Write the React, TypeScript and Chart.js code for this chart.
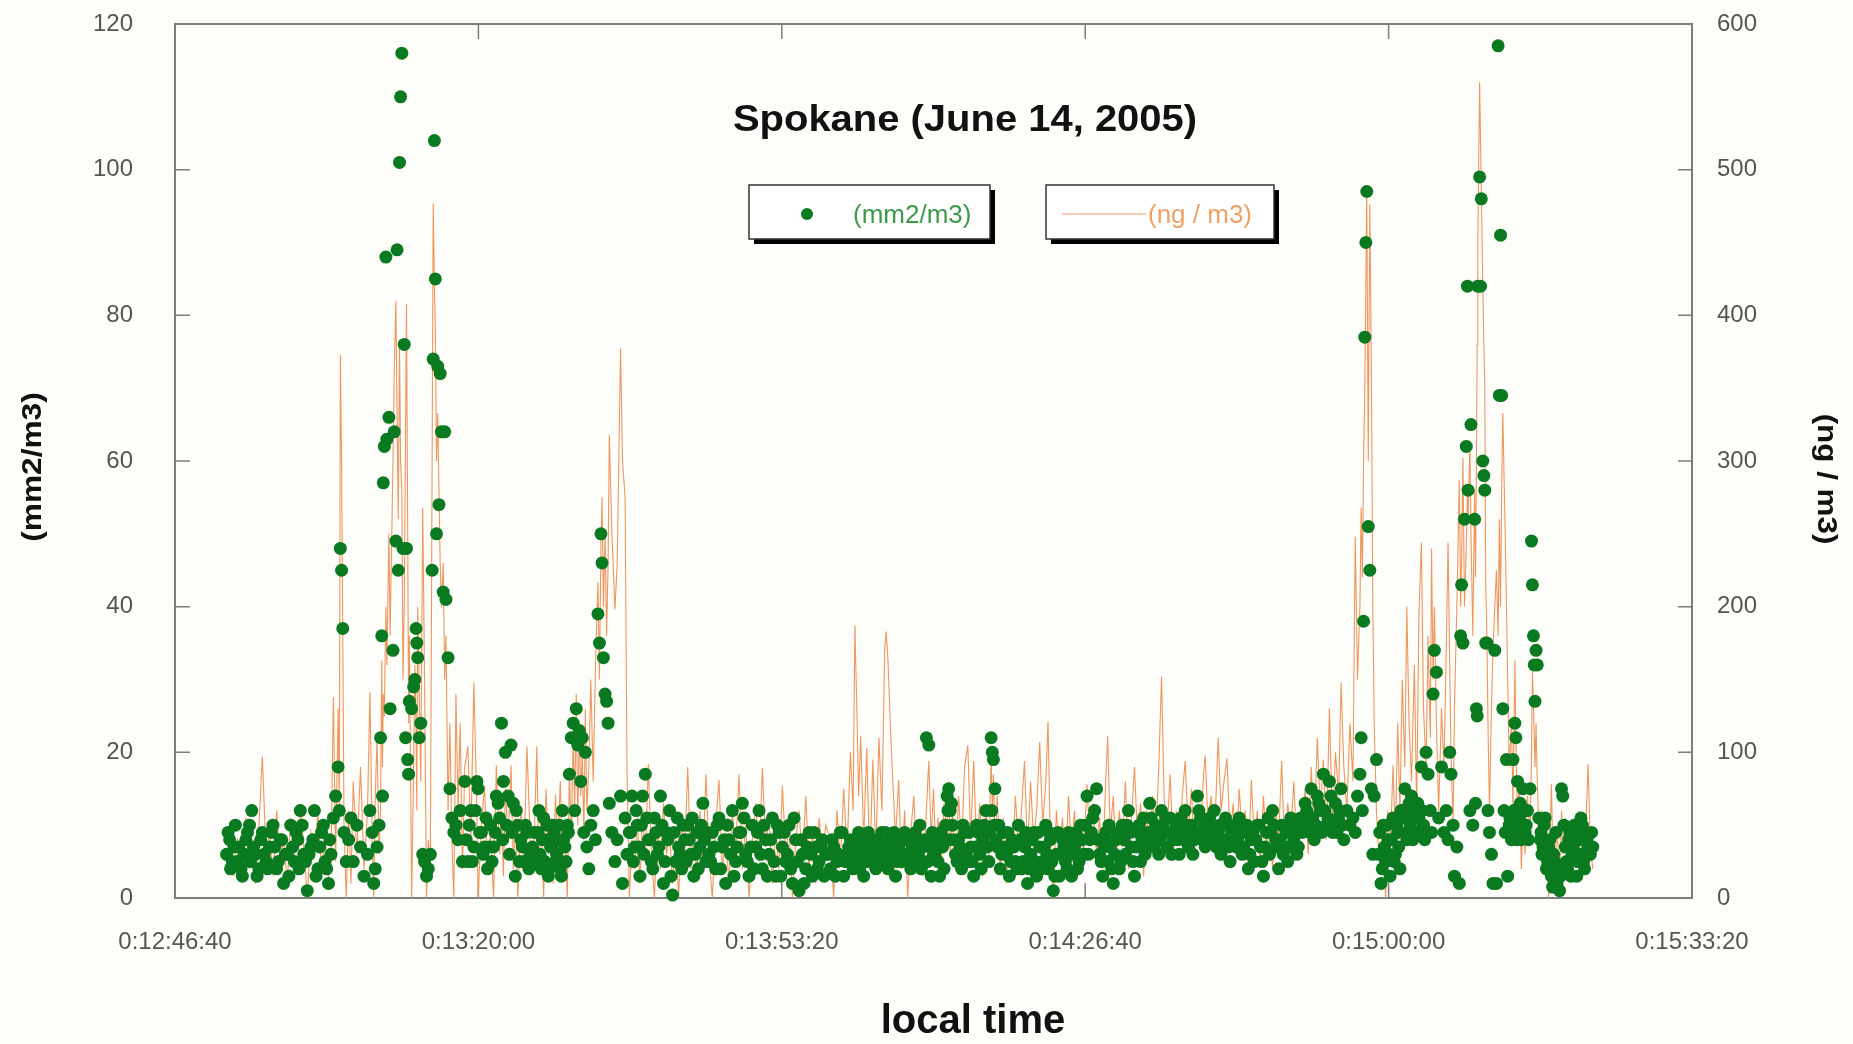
import React, { useEffect, useRef } from "react";
import { Chart, registerables } from "chart.js";

Chart.register(...registerables);

// ---------------- data ----------------
const titleText = "Spokane (June 14, 2005)";
const areaLabel = "(mm2/m3)";
const massLabel = "(ng / m3)";
const xTitle = "local time";

const xTickValues = [46000, 48000, 50000, 52000, 54000, 56000];
const leftTickValues = [0, 20, 40, 60, 80, 100, 120];
const rightTickValues = [0, 100, 200, 300, 400, 500, 600];

// local time in seconds of the day (shared by both series)
const timeSec = [
  46350, 46366, 46389, 46413, 46444, 46467, 46491, 46506, 46530, 46553,
  46576, 46600, 46623, 46646, 46670, 46693, 46716, 46740, 46763, 46787,
  46810, 46826, 46849, 46872, 46896, 46919, 46942, 46966, 46989, 47012, 47028,
  47044, 47059, 47075, 47083, 47090, 47098, 47106, 47114, 47129, 47145, 47160, 47175,
  47199, 47223, 47246, 47269, 47285, 47300, 47310, 47320, 47332, 47345,
  47355, 47363, 47368, 47373, 47380, 47390, 47397, 47410, 47418, 47437,
  47445, 47456, 47464, 47472, 47480, 47487, 47495, 47503, 47511, 47520,
  47526, 47534, 47540, 47545, 47560, 47573, 47581, 47589, 47594, 47600,
  47610, 47620, 47633, 47645, 47658, 47670, 47683,
  47695, 47702, 47710, 47716, 47724, 47732, 47740, 47748, 47756, 47768,
  47778, 47786, 47800, 47812, 47825, 47838, 47852, 47866, 47880, 47895, 47910,
  47931, 47950, 47970, 47990, 47998, 48020, 48040, 48060, 48080, 48100,
  48118, 48140, 48152, 48165, 48178, 48196, 48215, 48230, 48243, 48260,
  48280, 48300, 48320, 48345,
  48368, 48385, 48399, 48415, 48430, 48446, 48461, 48477, 48492, 48508,
  48523, 48540, 48554, 48570, 48586, 48600, 48612, 48625, 48635, 48645,
  48655, 48665, 48675, 48685, 48695, 48705, 48715, 48728, 48741,
  48757, 48772, 48788, 48798, 48808, 48815, 48824, 48835, 48845, 48855,
  48863, 48880, 48900, 48915, 48937, 48950, 48967, 48980, 48995,
  49012, 49030, 49048, 49065, 49082, 49100, 49120, 49140, 49160, 49180,
  49200, 49220, 49240, 49260, 49280, 49300, 49320, 49340, 49360, 49380,
  49400, 49420, 49440, 49460, 49480, 49500,
  49520, 49542, 49564, 49586, 49608, 49630, 49652, 49674, 49696, 49718,
  49740, 49762, 49784, 49806, 49828, 49850, 49872, 49894, 49916, 49938,
  49960, 49982, 50004, 50026, 50048, 50070, 50092, 50114, 50136, 50158,
  50180, 50202, 50224, 50246, 50268, 50290,
  50320, 50342, 50364, 50386, 50408, 50430, 50452, 50470, 50482, 50494,
  50506, 50520, 50540, 50560, 50580, 50600, 50620, 50640, 50660, 50678,
  50688, 50700, 50715, 50730, 50750, 50770, 50790, 50810, 50830, 50850,
  50870, 50890, 50910, 50930, 50953, 50969, 50985, 51000, 51015, 51030,
  51050, 51070,
  51090, 51100, 51110, 51125, 51145, 51165, 51185, 51205, 51226, 51245,
  51265, 51285, 51305, 51325, 51345, 51365, 51380, 51388, 51395, 51405,
  51420, 51440, 51460, 51480, 51500, 51520, 51540, 51560, 51580, 51600,
  51620, 51640, 51660, 51680, 51700, 51720, 51740, 51755, 51770, 51790,
  51810, 51830, 51850,
  51870, 51890, 51910, 51930, 51950, 51970, 51990, 52012, 52030, 52050,
  52075, 52095, 52115, 52135, 52148, 52165, 52185, 52205, 52225, 52245,
  52265, 52285, 52305, 52325, 52345, 52365, 52385, 52405, 52425, 52445,
  52465, 52485, 52503, 52520, 52540, 52560, 52580, 52600, 52620,
  52640, 52659, 52680, 52700, 52720, 52740, 52760, 52780, 52791, 52810,
  52830, 52850, 52877, 52895, 52915, 52935, 52955, 52975, 52995, 53015,
  53035, 53055, 53075, 53095, 53115, 53135, 53155, 53175, 53195, 53215,
  53235, 53255, 53275, 53295, 53315, 53335, 53355, 53375, 53395,
  53430, 53450, 53470, 53490, 53510, 53530, 53550, 53570, 53590, 53610,
  53630, 53650, 53670, 53687, 53705, 53725, 53745, 53765, 53780, 53795,
  53811, 53819, 53827, 53835, 53843, 53850, 53856, 53866, 53876, 53886,
  53896, 53905, 53920,
  53935, 53950, 53965, 53980, 53995, 54010, 54029, 54045, 54060, 54075,
  54090, 54107, 54120, 54135, 54151, 54170, 54185, 54200, 54216, 54230,
  54247, 54260, 54275, 54283, 54293, 54302, 54315, 54330, 54349, 54365,
  54380, 54392, 54403, 54411, 54425, 54434, 54450, 54466, 54475, 54481,
  54490,
  54500, 54512, 54520, 54524, 54536, 54543, 54555, 54567, 54573, 54579,
  54584, 54588, 54600, 54606, 54611, 54621, 54628, 54634, 54640, 54648,
  54655, 54665, 54678, 54688, 54700, 54711, 54722, 54730, 54738, 54745,
  54753, 54761, 54769, 54777, 54785, 54795, 54810, 54820, 54832, 54839,
  54850, 54862, 54875, 54886, 54900, 54915, 54933, 54942, 54948, 54955,
  54960, 54965, 54972, 54980, 54990, 55000, 55011, 55025, 55040, 55055,
  55073, 55081, 55095, 55110, 55127, 55140, 55148, 55165, 55180, 55195,
  55210, 55225, 55240, 55255, 55268, 55285, 55300, 55315, 55330, 55346,
];

// surface area concentration (mm2/m3), left axis
const areaValues = [
  9, 4, 7, 5, 3, 8, 10, 12, 6, 4,
  9, 5, 7, 10, 4, 8, 2, 6, 10, 5,
  8, 12, 6, 1, 7, 12, 4, 9, 5, 2, 6,
  11, 14, 18, 12, 48, 45, 37, 9, 5, 8, 11, 5,
  10, 7, 3, 6, 12, 9, 2, 4, 7, 10,
  22, 36, 14, 57, 62, 88, 63, 66, 26, 34,
  64, 49, 89, 45, 101, 110, 116, 48, 76, 22,
  48, 19, 17, 27, 26, 29, 30, 37, 35, 33,
  22, 24, 6, 5, 3, 4, 6,
  45, 74, 104, 85, 50, 73, 54, 72, 64, 42,
  64, 41, 33, 15, 11, 9, 10, 8, 12, 5, 16,
  5, 12, 7, 16, 15, 9, 7, 4, 10, 7,
  14, 11, 24, 16, 20, 14, 21, 13, 3, 10,
  8, 5, 9, 6,
  9, 6, 12, 4, 11, 8, 3, 7, 10, 5,
  8, 4, 12, 7, 10, 17, 22, 24, 12, 26,
  21, 23, 16, 22, 9, 20, 7, 4, 10,
  12, 8, 39, 35, 50, 46, 33, 28, 27, 24,
  13, 9, 5, 8, 14, 2, 11, 6, 9,
  14, 7, 10, 3, 14, 17, 8, 5, 11, 6,
  14, 2, 9, 12, 0.4, 5, 7, 4, 8, 10,
  6, 3, 9, 7, 13, 5,
  6, 9, 4, 11, 7, 2, 8, 12, 5, 9,
  13, 6, 3, 10, 7, 12, 4, 8, 6, 11,
  3, 9, 7, 5, 10, 2, 8, 1, 6, 4,
  9, 3, 7, 5, 8, 6,
  4, 7, 5, 9, 3, 6, 8, 4, 7, 5,
  9, 6, 3, 7, 5, 8, 4, 6, 9, 5,
  7, 4, 8, 6, 3, 7, 5, 9, 6, 4,
  8, 5, 10, 7, 22, 21, 3, 6, 8, 5,
  9, 4,
  14, 15, 12, 10, 6, 8, 4, 9, 5, 7,
  3, 10, 6, 8, 12, 5, 22, 20, 19, 15,
  7, 4, 9, 6, 3, 8, 5, 10, 4, 7,
  2, 6, 9, 3, 7, 5, 10, 4, 8, 1,
  6, 3, 8,
  5, 9, 3, 7, 4, 10, 6, 14, 8, 11,
  15, 6, 3, 9, 5, 7, 2, 8, 4, 10,
  6, 12, 7, 3, 9, 5, 11, 7, 13, 8,
  10, 6, 12, 9, 7, 11, 8, 10, 6,
  9, 12, 7, 10, 8, 14, 11, 9, 7, 10,
  8, 12, 9, 6, 10, 8, 5, 9, 7, 11,
  6, 9, 4, 8, 5, 10, 7, 3, 9, 6,
  12, 8, 4, 10, 7, 5, 11, 8, 6,
  9, 13, 11, 15, 8, 14, 12, 17, 10, 16,
  9, 13, 11, 15, 8, 12, 10, 11, 9, 14,
  17, 22, 12, 38, 77, 90, 97, 51, 45, 15,
  6, 14, 19,
  6, 2, 10, 5, 8, 3, 11, 6, 9, 4,
  12, 15, 8, 13, 14, 12, 9, 11, 18, 10,
  20, 17, 12, 9, 28, 34, 31, 11, 18, 9,
  12, 8, 20, 17, 10, 3, 7, 2, 36, 43,
  35,
  52, 62, 84, 56, 12, 65, 10, 52, 13, 26,
  25, 84, 99, 84, 96, 60, 58, 56, 35, 35,
  12, 9, 6, 2, 34, 2, 117, 69, 91, 69,
  26, 12, 9, 19, 3, 10, 8, 19, 24, 22,
  16, 11, 8, 15, 9, 12, 15, 49, 43, 36,
  32, 27, 34, 32, 11, 8, 6, 10, 4, 7,
  3, 1.5, 5, 2, 1, 15, 14, 7, 4, 9,
  6, 10, 3, 8, 11, 5, 9, 7, 6, 7,
];

// mass concentration (ng / m3), right axis
const massValues = [
  20, 45, 15, 40, 25, 55, 20, 35, 10, 50,
  97, 30, 45, 15, 60, 25, 40, 10, 55, 30,
  20, 62, 35, 0, 45, 30, 58, 20, 40, 15, 25,
  138, 25, 130, 60, 373, 300, 180, 50, 0, 60, 10, 80,
  30, 90, 20, 60, 141, 40, 0, 70, 110, 30,
  60, 163, 90, 140, 125, 200, 160, 250, 180, 300,
  360, 410, 330, 260, 383, 300, 280, 150, 200, 320,
  408, 250, 120, 180, 0, 90, 160, 120, 60, 200,
  140, 80, 268, 150, 0, 40, 20,
  300, 477, 420, 391, 300, 333, 280, 230, 200, 230,
  150, 180, 60, 120, 40, 0, 140, 60, 120, 20, 90,
  104, 40, 148, 60, 0, 50, 77, 20, 45, 0,
  91, 30, 60, 15, 75, 40, 91, 20, 55, 0,
  60, 25, 104, 30,
  40, 104, 20, 60, 0, 75, 30, 55, 10, 71,
  35, 80, 25, 50, 0, 90, 40, 110, 60, 140,
  50, 120, 70, 100, 40, 130, 60, 90, 150,
  80, 160, 217, 150, 243, 275, 200, 250, 180, 230,
  318, 250, 198, 230, 377, 300, 275, 83, 0,
  40, 20, 55, 10, 60, 25, 92, 30, 0, 50,
  20, 65, 30, 45, 10, 40, 0, 55, 30, 90,
  20, 50, 15, 60, 25, 85,
  30, 0, 50, 81, 20, 45, 10, 60, 30, 85,
  20, 50, 0, 40, 65, 25, 89, 35, 55, 10,
  45, 20, 77, 30, 50, 0, 40, 60, 25, 70,
  20, 45, 10, 55, 30, 50,
  40, 0, 60, 25, 75, 30, 100, 60, 187, 133,
  70, 111, 40, 103, 20, 95, 30, 110, 60, 170,
  183, 163, 120, 85, 40, 81, 20, 60, 0, 45,
  70, 25, 50, 15, 60, 94, 40, 75, 30, 55,
  20, 65,
  40, 80, 30, 60, 20, 70, 35, 90, 105, 40,
  94, 30, 65, 15, 60, 30, 97, 60, 85, 40,
  70, 20, 55, 10, 45, 25, 70, 35, 60, 94,
  30, 80, 40, 60, 107, 50, 80, 121, 40, 0,
  60, 30, 55,
  20, 70, 35, 60, 15, 50, 30, 78, 40, 65,
  30, 55, 20, 80, 111, 45, 70, 25, 60, 35,
  80, 20, 55, 90, 40, 65, 15, 60, 30, 70,
  40, 90, 152, 70, 45, 85, 30, 60, 40,
  70, 94, 45, 75, 30, 60, 40, 85, 98, 50,
  70, 35, 110, 60, 80, 96, 40, 65, 30, 75,
  45, 60, 20, 81, 40, 60, 25, 70, 35, 55,
  20, 60, 40, 94, 30, 65, 45, 80, 35,
  50, 75, 30, 90, 45, 110, 60, 95, 40, 130,
  50, 100, 70, 148, 90, 60, 120, 80, 248, 150,
  200, 268, 220, 300, 350, 420, 487, 300, 476, 371,
  200, 120, 60,
  30, 20, 45, 0, 60, 30, 91, 40, 120, 60,
  150, 90, 200, 120, 80, 160, 60, 195, 244, 130,
  90, 180, 110, 240, 150, 200, 120, 60, 130, 90,
  170, 244, 160, 100, 50, 130, 200, 287, 200, 230,
  302,
  200, 240, 280, 260, 314, 250, 180, 280, 220, 300,
  380, 450, 560, 520, 487, 420, 380, 352, 217, 180,
  120, 60, 130, 170, 200, 225, 180, 260, 200, 280,
  333, 290, 248, 200, 150, 90, 120, 60, 163, 110,
  50, 80, 20, 60, 30, 70, 40, 100, 156, 130,
  110, 90, 120, 80, 50, 30, 60, 20, 50, 0,
  78, 40, 20, 50, 10, 60, 30, 55, 20, 45,
  15, 50, 30, 60, 40, 20, 50, 92, 35, 20,
];

// additional (mm2/m3) readings in the dense low band
const extraTimes = [
  46340, 46360, 46378, 46398, 46420, 46436, 46456, 46478, 46498, 46518,
  46541, 46565, 46588, 46611, 46635, 46658, 46681, 46704, 46728, 46751,
  46775, 46798, 46818, 46838, 46860, 46884, 46908, 46930, 46954, 46978,
  47000, 47020,
  47920, 47940, 47960, 47980, 48008, 48030, 48050, 48070, 48090, 48110,
  48130, 48160, 48186, 48205, 48222, 48250, 48270, 48290, 48310, 48333,
  48356, 48376, 48392, 48407, 48422, 48438, 48453, 48469, 48484, 48500,
  48515, 48531, 48547, 48562, 48578, 48593,
  49003, 49022, 49040, 49057, 49074, 49091, 49110, 49130, 49150, 49170,
  49190, 49210, 49230, 49250, 49270, 49290, 49310, 49330, 49350, 49370,
  49390, 49410, 49430, 49450, 49470, 49490, 49510, 49531, 49553, 49575,
  49597, 49619, 49641, 49663, 49685, 49707, 49729, 49751, 49773, 49795,
  49817, 49839, 49861, 49883, 49905, 49927, 49949, 49971, 49993, 50015,
  50037, 50059, 50081, 50103, 50125, 50147, 50169, 50191, 50213, 50235,
  50257, 50279, 50305, 50331, 50353, 50375, 50397, 50419, 50441, 50461,
  50476, 50488, 50500, 50513, 50530, 50550, 50570, 50590, 50610, 50630,
  50650, 50669, 50683, 50694, 50707, 50722, 50740, 50760, 50780, 50800,
  50820, 50840, 50860, 50880, 50900, 50920, 50940, 50961, 50977, 50993,
  51008, 51022, 51040, 51060, 51080, 51095, 51105, 51118, 51135, 51155,
  51175, 51195, 51215, 51235, 51255, 51275, 51295, 51315, 51335, 51355,
  51372, 51384, 51400, 51412, 51430, 51450, 51470, 51490, 51510, 51530,
  51550, 51570, 51590, 51610, 51630, 51650, 51670, 51690, 51710, 51730,
  51747, 51762, 51780, 51800, 51820, 51840, 51860, 51880, 51900, 51920,
  51940, 51960, 51980, 52000, 52021, 52040, 52062, 52085, 52105, 52125,
  52141, 52157, 52175, 52195, 52215, 52235, 52255, 52275, 52295, 52315,
  52335, 52355, 52375, 52395, 52415, 52435, 52455, 52475, 52494, 52512,
  52530, 52550, 52570, 52590, 52610, 52630, 52650, 52670, 52690, 52710,
  52730, 52750, 52770, 52786, 52800, 52820, 52840, 52864, 52886, 52905,
  52925, 52945, 52965, 52985, 53005, 53025, 53045, 53065, 53085, 53105,
  53125, 53145, 53165, 53185, 53205, 53225, 53245, 53265, 53285, 53305,
  53325, 53345, 53365, 53385, 53405, 53420, 53440, 53460, 53480, 53500,
  53520, 53540, 53560, 53580, 53600, 53620, 53640, 53660, 53678, 53695,
  53942, 53958, 53972, 53988, 54002, 54018, 54037, 54052, 54067, 54082,
  54098, 54113, 54128, 54143, 54160, 54178, 54192, 54208, 54222, 54238,
  54800, 54815, 54826, 54845, 54856, 54868, 54880, 54893, 54907, 54922,
  55005, 55018, 55032, 55048, 55063, 55088, 55102, 55118, 55133, 55156,
  55172, 55187, 55202, 55217, 55232, 55248, 55261, 55277, 55292, 55308,
  55322, 55338,
];
const extraArea = [
  6, 8, 5, 10, 7, 4, 6, 9, 5, 7,
  3, 8, 6, 4, 9, 7, 5, 8, 6, 3,
  7, 9, 4, 10, 5, 6, 8, 3, 7, 10,
  4, 8,
  8, 10, 5, 12, 9, 6, 11, 7, 5, 9,
  13, 8, 10, 6, 9, 12, 5, 7, 10, 4,
  7, 5, 9, 6, 8, 5, 10, 4, 7, 9,
  6, 10, 3, 8, 5, 9,
  9, 5, 12, 7, 10, 6, 11, 8, 4, 9,
  7, 10, 5, 8, 3, 9, 11, 6, 10, 5,
  8, 11, 6, 4, 10, 8, 9, 5, 7, 10,
  4, 8, 10, 6, 3, 7, 9, 11, 5, 7,
  4, 9, 6, 10, 3, 8, 5, 10, 3, 9,
  6, 4, 11, 5, 8, 2, 7, 6, 9, 4,
  7, 3, 6, 8, 3, 6, 9, 5, 7, 6,
  5, 8, 6, 4, 8, 5, 9, 6, 7, 8,
  5, 7, 9, 6, 5, 7, 9, 5, 8, 6,
  8, 5, 7, 9, 6, 4, 8, 5, 7, 9,
  6, 8, 3, 7, 10, 12, 8, 13, 8, 5,
  7, 10, 6, 9, 5, 7, 9, 4, 10, 7,
  9, 12, 10, 8, 10, 6, 7, 9, 5, 7,
  4, 8, 5, 9, 4, 8, 5, 9, 4, 7,
  6, 9, 5, 3, 9, 6, 7, 4, 8, 6,
  9, 5, 8, 10, 6, 9, 12, 8, 5, 7,
  8, 10, 4, 6, 9, 5, 8, 10, 9, 5,
  7, 10, 8, 6, 9, 11, 7, 9, 8, 10,
  11, 9, 6, 9, 8, 11, 8, 10, 9, 6,
  9, 12, 8, 10, 8, 11, 9, 7, 10, 8,
  11, 7, 9, 10, 8, 9, 7, 10, 6, 9,
  8, 10, 5, 7, 11, 9, 10, 7, 8, 6,
  9, 7, 10, 9, 7, 11, 10, 12, 9, 11,
  10, 13, 9, 12, 11, 14, 10, 9, 12, 10,
  9, 4, 7, 10, 6, 8, 5, 10, 7, 12,
  11, 9, 12, 10, 8, 11, 13, 9, 12, 8,
  11, 9, 12, 8, 10, 13, 9, 12, 10, 8,
  9, 7, 11, 5, 8, 6, 9, 4, 3, 10,
  5, 8, 3, 7, 9, 5, 6, 10, 4, 8,
  6, 9,
];

// ---------------- styling ----------------
const FONT = "'Liberation Sans', Arial, Helvetica, sans-serif";
const GREEN = "#0a7a20";
const ORANGE = "rgb(240,150,95)";
const AXIS = "#7d7d7d";
const TICK_TXT = "#555555";

function fmtTime(s: number): string {
  const h = Math.floor(s / 3600);
  const m = Math.floor((s % 3600) / 60);
  const sec = Math.round(s % 60);
  return `0:${h}:${String(m).padStart(2, "0")}:${String(sec).padStart(2, "0")}`;
}

const decorPlugin = {
  id: "decor",
  beforeDatasetsDraw(chart: any) {
    const { ctx, chartArea: ca, scales } = chart;
    ctx.save();
    ctx.strokeStyle = AXIS;
    ctx.lineWidth = 2;
    ctx.strokeRect(ca.left, ca.top, ca.right - ca.left, ca.bottom - ca.top);
    ctx.lineWidth = 1.5;
    ctx.beginPath();
    for (const v of leftTickValues) {
      const y = scales.y.getPixelForValue(v);
      ctx.moveTo(ca.left, y);
      ctx.lineTo(ca.left + 15, y);
    }
    for (const v of rightTickValues) {
      const y = scales.y2.getPixelForValue(v);
      ctx.moveTo(ca.right - 14, y);
      ctx.lineTo(ca.right, y);
    }
    for (const v of xTickValues) {
      const x = scales.x.getPixelForValue(v);
      ctx.moveTo(x, ca.bottom);
      ctx.lineTo(x, ca.bottom - 15);
      ctx.moveTo(x, ca.top);
      ctx.lineTo(x, ca.top + 15);
    }
    ctx.stroke();
    ctx.restore();
  },
  afterDraw(chart: any) {
    const { ctx } = chart;
    ctx.save();
    ctx.fillStyle = "#111111";
    ctx.textAlign = "center";
    ctx.textBaseline = "alphabetic";
    ctx.save();
    ctx.translate(965, 131);
    ctx.scale(1.08, 1);
    ctx.font = `bold 37px ${FONT}`;
    ctx.fillText(titleText, 0, 0);
    ctx.restore();

    const drawBox = (x: number, y: number, w: number, h: number) => {
      ctx.fillStyle = "#000000";
      ctx.fillRect(x + 5, y + 5, w, h);
      ctx.fillStyle = "#ffffff";
      ctx.fillRect(x, y, w, h);
      ctx.strokeStyle = "#333333";
      ctx.lineWidth = 1.5;
      ctx.strokeRect(x, y, w, h);
    };
    drawBox(749, 185, 241, 54);
    drawBox(1046, 185, 228, 54);
    ctx.fillStyle = GREEN;
    ctx.beginPath();
    ctx.arc(807, 214, 6, 0, Math.PI * 2);
    ctx.fill();
    ctx.font = `26px ${FONT}`;
    ctx.textAlign = "left";
    ctx.fillStyle = "#3c9a48";
    ctx.fillText(areaLabel, 853, 223);
    ctx.strokeStyle = ORANGE;
    ctx.lineWidth = 1.2;
    ctx.beginPath();
    ctx.moveTo(1062, 214);
    ctx.lineTo(1146, 214);
    ctx.stroke();
    ctx.fillStyle = "#f0a064";
    ctx.fillText(massLabel, 1148, 223);

    ctx.fillStyle = "#111111";
    ctx.textAlign = "center";
    ctx.textBaseline = "middle";
    ctx.font = `bold 28px ${FONT}`;
    ctx.save();
    ctx.translate(33, 467);
    ctx.rotate(-Math.PI / 2);
    ctx.scale(1.13, 1);
    ctx.fillText(areaLabel, 0, 0);
    ctx.restore();
    ctx.save();
    ctx.translate(1826, 479);
    ctx.rotate(Math.PI / 2);
    ctx.scale(1.12, 1);
    ctx.fillText(massLabel, 0, 0);
    ctx.restore();
    ctx.font = `bold 40px ${FONT}`;
    ctx.fillText(xTitle, 973, 1022);
    ctx.restore();
  },
};

export default function App() {
  const canvasRef = useRef<HTMLCanvasElement | null>(null);

  useEffect(() => {
    const canvas = canvasRef.current;
    if (!canvas) return;
    const n = Math.min(timeSec.length, areaValues.length, massValues.length);
    const areaPts = [] as { x: number; y: number }[];
    const massPts = [] as { x: number; y: number }[];
    for (let i = 0; i < n; i++) {
      areaPts.push({ x: timeSec[i], y: areaValues[i] });
      massPts.push({ x: timeSec[i], y: massValues[i] });
    }
    const ne = Math.min(extraTimes.length, extraArea.length);
    for (let i = 0; i < ne; i++) {
      areaPts.push({ x: extraTimes[i], y: extraArea[i] });
    }
    const tickFont = { family: FONT, size: 24 };
    const zeroPad = (s: any) => {
      s.paddingTop = 0;
      s.paddingBottom = 0;
      s.paddingLeft = 0;
      s.paddingRight = 0;
    };
    const chart = new Chart(canvas, {
      type: "scatter",
      data: {
        datasets: [
          {
            label: areaLabel,
            data: areaPts,
            yAxisID: "y",
            backgroundColor: GREEN,
            borderColor: GREEN,
            pointRadius: 6.5,
            pointHoverRadius: 6.5,
            pointBorderWidth: 0,
            showLine: false,
            order: 1,
            clip: false,
          } as any,
          {
            type: "line",
            label: massLabel,
            data: massPts,
            yAxisID: "y2",
            borderColor: ORANGE,
            backgroundColor: ORANGE,
            borderWidth: 1.1,
            pointRadius: 0,
            showLine: true,
            fill: false,
            tension: 0,
            order: 2,
          } as any,
        ],
      },
      options: {
        animation: false,
        responsive: false,
        events: [],
        layout: { padding: { top: 24, left: 0, right: 0, bottom: 0 } },
        plugins: {
          legend: { display: false },
          title: { display: false },
          tooltip: { enabled: false },
        },
        scales: {
          x: {
            type: "linear",
            position: "bottom",
            min: 46000,
            max: 56000,
            afterBuildTicks: (s: any) => {
              s.ticks = xTickValues.map((v) => ({ value: v }));
            },
            ticks: {
              callback: (v: any) => fmtTime(Number(v)),
              font: tickFont,
              color: TICK_TXT,
              padding: 30,
              maxRotation: 0,
              autoSkip: false,
            },
            grid: { display: false, drawTicks: false },
            border: { display: false },
            afterFit: (s: any) => {
              s.height = 146;
              zeroPad(s);
            },
          },
          y: {
            type: "linear",
            position: "left",
            min: 0,
            max: 120,
            afterBuildTicks: (s: any) => {
              s.ticks = leftTickValues.map((v) => ({ value: v }));
            },
            ticks: { font: tickFont, color: TICK_TXT, padding: 42 },
            grid: { display: false, drawTicks: false },
            border: { display: false },
            afterFit: (s: any) => {
              s.width = 175;
              zeroPad(s);
            },
          },
          y2: {
            type: "linear",
            position: "right",
            min: 0,
            max: 600,
            afterBuildTicks: (s: any) => {
              s.ticks = rightTickValues.map((v) => ({ value: v }));
            },
            ticks: { font: tickFont, color: TICK_TXT, padding: 25 },
            grid: { display: false, drawTicks: false },
            border: { display: false },
            afterFit: (s: any) => {
              s.width = 161;
              zeroPad(s);
            },
          },
        },
      } as any,
      plugins: [decorPlugin],
    });
    return () => chart.destroy();
  }, []);

  return (
    <div
      style={{
        position: "absolute",
        left: 0,
        top: 0,
        width: 1853,
        height: 1044,
        background: "#fdfdfa",
      }}
    >
      <canvas ref={canvasRef} width={1853} height={1044} />
    </div>
  );
}
